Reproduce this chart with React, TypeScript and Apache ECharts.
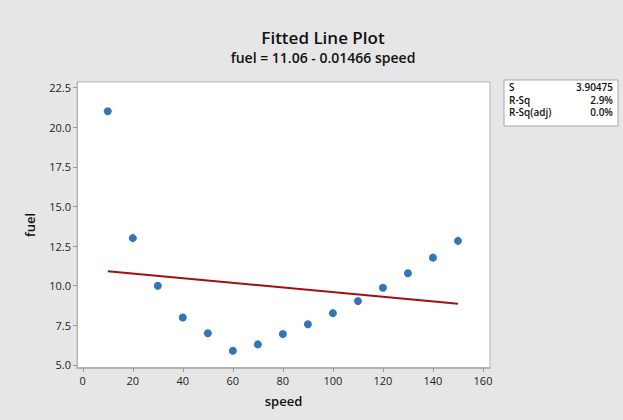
import React, { useEffect, useRef } from "react";
import * as echarts from "echarts";

const speed = [10, 20, 30, 40, 50, 60, 70, 80, 90, 100, 110, 120, 130, 140, 150];
const fuel = [21.0, 13.0, 10.0, 8.0, 7.0, 5.9, 6.3, 6.95, 7.57, 8.27, 9.03, 9.87, 10.79, 11.77, 12.83];
const fitSpeed = [10, 150];
const fitFuel = [10.913, 8.861];
const yTicks = [5.0, 7.5, 10.0, 12.5, 15.0, 17.5, 20.0, 22.5];
const xTicks = [0, 20, 40, 60, 80, 100, 120, 140, 160];
const statLabels = ["S", "R-Sq", "R-Sq(adj)"];
const statValues = ["3.90475", "2.9%", "0.0%"];

const FONT = "'Open Sans', 'Noto Sans', sans-serif";

export default function App() {
  const ref = useRef<HTMLDivElement>(null);
  useEffect(() => {
    if (!ref.current) return;
    const chart = echarts.init(ref.current, null, { renderer: "svg" });
    const statRows = statLabels.flatMap((l, i) => [
      {
        type: "text",
        left: 509,
        top: 82 + i * 12.5,
        style: { text: l, font: `600 10px ${FONT}`, fill: "#111" },
      },
      {
        type: "text",
        right: 10,
        top: 82 + i * 12.5,
        style: { text: statValues[i], font: `600 10px ${FONT}`, fill: "#111", textAlign: "right" },
      },
    ]);
    chart.setOption({
      animation: false,
      backgroundColor: "#E6E6E6",
      textStyle: { fontFamily: FONT },
      title: {
        text: "Fitted Line Plot",
        subtext: "fuel = 11.06 - 0.01466 speed",
        left: 318,
        textAlign: "center",
        top: 24,
        itemGap: 4,
        textStyle: { fontSize: 17, fontWeight: 600, color: "#111", fontFamily: FONT },
        subtextStyle: { fontSize: 14, fontWeight: 600, color: "#111", fontFamily: FONT },
      },
      grid: {
        left: 77,
        right: 133,
        top: 82,
        bottom: 52,
        show: true,
        backgroundColor: "#FFFFFF",
        borderColor: "#B4B4B4",
        borderWidth: 1,
      },
      xAxis: {
        type: "value",
        min: -2.3,
        max: 162.8,
        name: "speed",
        nameLocation: "middle",
        nameGap: 26,
        nameTextStyle: { fontSize: 13, fontWeight: 600, color: "#111", fontFamily: FONT },
        axisLine: { show: true, onZero: false, lineStyle: { color: "#B4B4B4", width: 2 } },
        axisTick: { show: true, customValues: xTicks, length: 4, lineStyle: { color: "#999" } },
        axisLabel: {
          customValues: xTicks,
          margin: 7,
          fontSize: 11,
          color: "#222",
          fontFamily: FONT,
        },
        splitLine: { show: false },
      },
      yAxis: {
        type: "value",
        min: 4.81,
        max: 22.85,
        name: "fuel",
        nameLocation: "middle",
        nameGap: 41,
        nameTextStyle: { fontSize: 13, fontWeight: 600, color: "#111", fontFamily: FONT },
        axisLine: { show: true, onZero: false, lineStyle: { color: "#B4B4B4", width: 1 } },
        axisTick: { show: true, customValues: yTicks, length: 4, lineStyle: { color: "#999" } },
        axisLabel: {
          customValues: yTicks,
          margin: 6,
          fontSize: 11,
          color: "#222",
          fontFamily: FONT,
          formatter: (v: number) => v.toFixed(1),
        },
        splitLine: { show: false },
      },
      series: [
        {
          type: "line",
          data: fitSpeed.map((x, i) => [x, fitFuel[i]]),
          symbol: "none",
          lineStyle: { color: "#A01010", width: 2 },
          z: 2,
        },
        {
          type: "scatter",
          data: speed.map((x, i) => [x, fuel[i]]),
          symbol: "circle",
          symbolSize: 8,
          itemStyle: { color: "#0054A6" },
          z: 3,
        },
      ],
      graphic: [
        {
          type: "rect",
          shape: { x: 504, y: 80, width: 114, height: 46 },
          style: { fill: "#FFFFFF", stroke: "#A8A8A8", lineWidth: 1 },
        },
        ...statRows,
      ],
    });
    return () => chart.dispose();
  }, []);
  return (
    <div
      ref={ref}
      style={{ position: "absolute", left: 0, top: 0, width: 623, height: 420 }}
    />
  );
}
